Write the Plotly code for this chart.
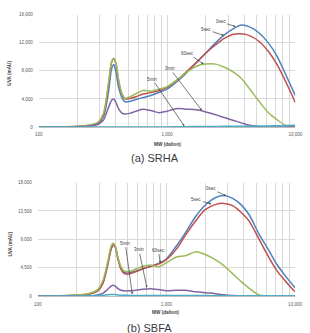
import math
import plotly.graph_objects as go

# ---------------- data ----------------
mw = [100, 200, 250, 290, 320, 350, 370, 385, 400, 420, 445, 470, 510, 580, 650, 750,
      870, 1000, 1200, 1400, 1700, 2000, 2400, 2800, 3300, 3800, 4400, 5200, 6200,
      7200, 8500, 10000]

series_names = ["0sec", "5sec", "60sec", "3min", "5min"]
colors = ["#4F81BD", "#C0504D", "#9BBB59", "#8064A2", "#4BACC6"]

# (a) SRHA
a_0sec = [0, 80, 200, 500, 1500, 5000, 8300, 8900, 7800, 5600, 4200, 3600, 3650, 3950, 4200, 4500,
          4950, 5400, 6500, 7600, 9200, 10500, 12000, 13100, 14000, 14500, 14250, 13400, 11900,
          10100, 7300, 4500]
a_5sec = [0, 100, 250, 600, 1800, 6000, 9200, 9750, 9000, 6500, 4700, 4000, 4050, 4350, 4700, 4900,
          5200, 5650, 6700, 7800, 9200, 10500, 11700, 12600, 13200, 13250, 13000, 12200, 10700,
          8900, 6300, 3500]
a_60sec = [0, 120, 300, 700, 2000, 6300, 9300, 9800, 9100, 6700, 4800, 4100, 4300, 4800, 5200, 5100,
           5400, 5750, 6700, 7700, 8650, 8950, 8950, 8500, 7800, 6900, 5450, 3700, 2000,
           1050, 200, 0]
a_3min = [0, 50, 150, 400, 1000, 2800, 3800, 4000, 3500, 2600, 2000, 1850, 1950, 2300, 2550, 2350,
          2050, 2250, 2650, 2550, 2450, 2150, 1750, 1350, 950, 600, 250, 50, 0,
          0, 0, 0]
a_5min = [0, 0, 0, 0, 0, 0, 0, 0, 0, 0, 0, 0, 0, 10, 15, 20,
          25, 30, 45, 60, 75, 85, 95, 105, 115, 125, 135, 150, 170,
          190, 220, 250]

# (b) SBFA
b_0sec = [0, 150, 350, 800, 2000, 5000, 7300, 8100, 7800, 6000, 4400, 3800, 3700, 4000, 4300, 4750,
          5200, 5900, 8000, 10000, 12700, 14400, 15600, 15950, 15450, 14500, 12900, 10000, 7400,
          5100, 3100, 1350]
b_5sec = [0, 150, 350, 800, 2000, 5000, 7300, 8100, 7800, 5900, 4200, 3600, 3500, 3900, 4300, 4700,
          5100, 5800, 7500, 9600, 12000, 13700, 14500, 14700, 14300, 13300, 11900, 9200, 6300,
          4100, 2300, 700]
b_60sec = [0, 200, 450, 1000, 2400, 5500, 7800, 8400, 8000, 6200, 4600, 4000, 3900, 4300, 4700, 4950,
           4650, 5300, 6200, 6400, 7050, 6600, 5800, 4850, 3500, 2350, 1250, 250, 0,
           0, 0, 0]
b_3min = [0, 30, 80, 200, 450, 1100, 1550, 1720, 1600, 1200, 950, 850, 850, 950, 1100, 1200,
          1050, 850, 950, 950, 700, 550, 400, 220, 100, 30, 0, 0, 0,
          0, 0, 0]
b_5min = [0, 30, 60, 100, 150, 230, 270, 280, 260, 200, 160, 140, 130, 120, 115, 110,
          105, 100, 100, 100, 95, 95, 90, 90, 85, 85, 80, 80, 80,
          80, 80, 80]

x_tickvals = [100, 1000, 10000]
x_ticktext = ["100", "1,000", "10,000"]
x_minor = [200, 300, 400, 500, 600, 700, 800, 900, 2000, 3000, 4000, 5000, 6000, 7000, 8000, 9000]
ya_ticks = [0, 4000, 8000, 12000, 16000]
yb_ticks = [0, 4500, 9000, 13500, 18000]

# label anchors: (label, MW, value, ax, ay)
labels_a = [("0sec", 3420, 14280, -15, -5), ("5sec", 2780, 13020, -18, -6),
            ("60sec", 1930, 8960, -16, -11), ("3min", 1866, 2380, -32, -42),
            ("5min", 1365, 140, -32, -47)]
labels_b = [("0sec", 2905, 15910, -15, -7), ("5sec", 2240, 14615, -15, -4),
            ("5min", 543, 310, -7, -51), ("3min", 705, 1357, -8, -38),
            ("60sec", 897, 5257, -2, -13)]

# ---------------- figure ----------------
W, H = 310, 333
fig = go.Figure()

panel_a = [a_0sec, a_5sec, a_60sec, a_3min, a_5min]
panel_b = [b_0sec, b_5sec, b_60sec, b_3min, b_5min]

for vals, name, col in zip(panel_a, series_names, colors):
    fig.add_trace(go.Scatter(x=mw, y=vals, name=name, mode="lines",
                             line=dict(color=col, width=1.5, shape="spline", smoothing=0.8),
                             xaxis="x", yaxis="y", showlegend=False))
for vals, name, col in zip(panel_b, series_names, colors):
    fig.add_trace(go.Scatter(x=mw, y=vals, name=name, mode="lines",
                             line=dict(color=col, width=1.5, shape="spline", smoothing=0.8),
                             xaxis="x2", yaxis="y2", showlegend=False))

grid = "#D9D9D9"
tickfont = dict(family="Arial, Liberation Sans, sans-serif", size=4.5, color="#595959")


def xaxis_cfg(domain, anchor):
    return dict(domain=domain, anchor=anchor, type="log", range=[2, 4],
                tickvals=x_tickvals, ticktext=x_ticktext, tickfont=tickfont,
                showgrid=True, gridcolor=grid, gridwidth=0.8,
                minor=dict(tickvals=x_minor, showgrid=True, gridcolor=grid, gridwidth=0.8, ticks=""),
                showline=True, linecolor="#BFBFBF", linewidth=1, zeroline=False,
                ticks="", ticklabelstandoff=3, fixedrange=True)


def yaxis_cfg(domain, anchor, rng, ticks):
    return dict(domain=domain, anchor=anchor, range=rng, tickvals=ticks,
                tickformat=",", tickfont=tickfont, showgrid=True, gridcolor=grid,
                gridwidth=0.8, zeroline=False, showline=False, ticks="",
                ticklabelstandoff=5, fixedrange=True)


fig.update_layout(
    width=W, height=H,
    margin=dict(l=0, r=0, t=0, b=0),
    paper_bgcolor="white", plot_bgcolor="white",
    xaxis=xaxis_cfg([36 / W, 302 / W], "y"),
    yaxis=yaxis_cfg([1 - 127 / H, 1 - 12.7 / H], "x", [0, 16000], ya_ticks),
    xaxis2=xaxis_cfg([35 / W, 301.7 / W], "y2"),
    yaxis2=yaxis_cfg([1 - 298.7 / H, 1 - 183.3 / H], "x2", [0, 18000], yb_ticks),
)

lab_font = dict(family="Arial, Liberation Sans, sans-serif", size=4.5, color="#404040")
for (txt, m, v, ax, ay) in labels_a:
    fig.add_annotation(x=math.log10(m), y=v, xref="x", yref="y", text=txt, showarrow=True,
                       ax=ax, ay=ay, arrowhead=2, arrowsize=0.6, arrowwidth=0.7,
                       arrowcolor="#404040", font=lab_font, standoff=0)
for (txt, m, v, ax, ay) in labels_b:
    fig.add_annotation(x=math.log10(m), y=v, xref="x2", yref="y2", text=txt, showarrow=True,
                       ax=ax, ay=ay, arrowhead=2, arrowsize=0.6, arrowwidth=0.7,
                       arrowcolor="#404040", font=lab_font, standoff=0)


def paper_text(px, py, text, font, angle=0):
    fig.add_annotation(x=px / W, y=1 - py / H, xref="paper", yref="paper", text=text,
                       showarrow=False, font=font, textangle=angle,
                       xanchor="center", yanchor="middle")


title_font = dict(family="Arial, Liberation Sans, sans-serif", size=4.7, color="#404040")
paper_text(169, 145, "<b>MW (dalton)</b>", title_font)
paper_text(167, 315, "<b>MW (dalton)</b>", title_font)
paper_text(6, 72, "<b>UVA (mAU)</b>", title_font, -90)
paper_text(6.5, 246, "<b>UVA (mAU)</b>", title_font, -90)

cap_font = dict(family="Liberation Sans, Arial, sans-serif", size=11, color="#3a3a3a")
paper_text(157, 158.5, "(a) SRHA", cap_font)
paper_text(151, 331, "(b) SBFA", cap_font)

fig.write_html("out.html")
